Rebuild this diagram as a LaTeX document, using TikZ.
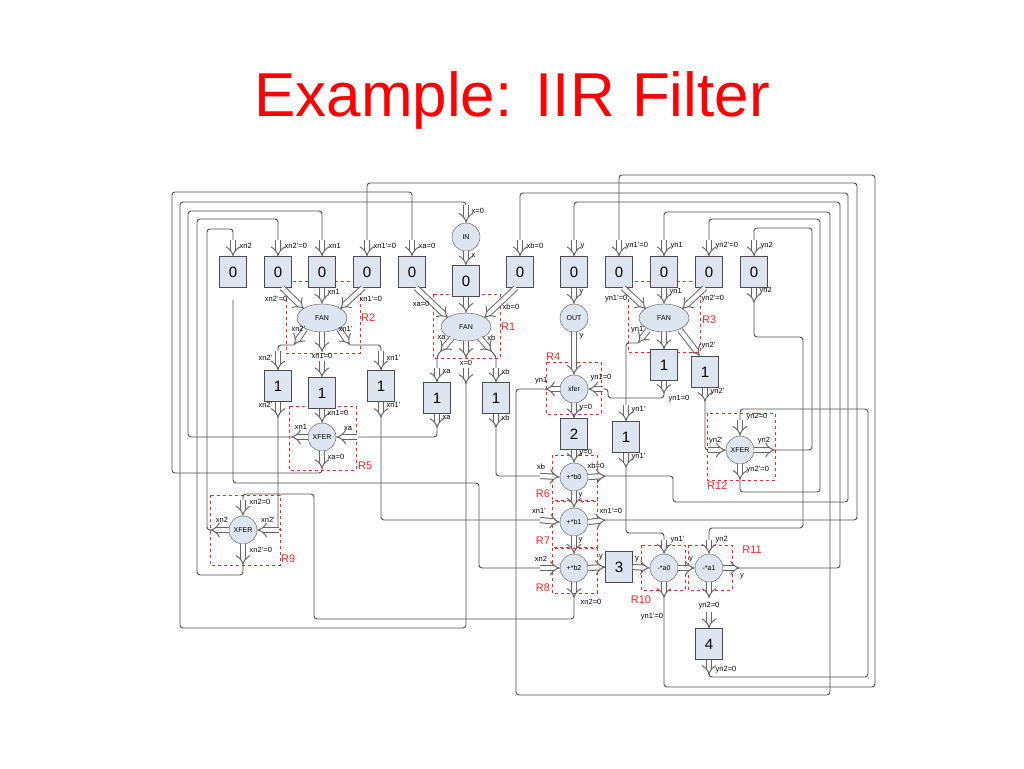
\documentclass[tikz,border=0pt]{standalone}
\usepackage{fontspec}
\setmainfont{Liberation Sans}
\usetikzlibrary{arrows.meta,shapes.geometric}
\definecolor{boxfill}{HTML}{DDE5F0}
\begin{document}
\begin{tikzpicture}[x=1pt,y=-1pt,
 fat/.style={draw=black!60,double=white,double distance=4.2pt,line width=1pt,-{Implies[scale=1.5]}},
 wire/.style={draw=black!70,line width=0.9pt,rounded corners=3pt},
 blk/.style={draw=black!70,fill=boxfill,minimum width=27pt,minimum height=31pt,inner sep=0,font=\fontsize{15}{15}\selectfont},
 cir/.style={circle,draw=black!70,fill=boxfill,minimum size=28pt,inner sep=0,font=\fontsize{7}{7}\selectfont},
 fan/.style={ellipse,draw=black!70,fill=boxfill,minimum width=50pt,minimum height=28pt,inner sep=0,font=\fontsize{7}{7}\selectfont},
 reg/.style={draw=red!85,dashed,line width=0.6pt},
 rl/.style={text=red!85,font=\fontsize{11}{11}\selectfont,inner sep=0},
 lab/.style={font=\fontsize{7.5}{8}\selectfont,inner sep=0.5pt}]
\useasboundingbox (0,0) rectangle (1024,768);
\node[text=red,font=\fontsize{62}{62}\selectfont] (title) at (512,100) {Example: IIR Filter};
% regions
\draw[reg] (286,281) rectangle (360,353); \node[rl,anchor=west] (r2) at (361,318) {R2};
\draw[reg] (433,294) rectangle (500,358); \node[rl,anchor=west] (r1) at (501,327) {R1};
\draw[reg] (628,281) rectangle (700,352); \node[rl,anchor=west] (r3) at (702,320) {R3};
\draw[reg] (289,406) rectangle (356,470); \node[rl,anchor=west] (r5) at (358,466) {R5};
\draw[reg] (546,362) rectangle (601,414); \node[rl,anchor=south west] (r4) at (546,361) {R4};
\draw[reg] (552,455) rectangle (597,500); \node[rl] (r6) at (543,494) {R6};
\draw[reg] (552,501) rectangle (597,547); \node[rl] (r7) at (543,541) {R7};
\draw[reg] (552,548) rectangle (597,593); \node[rl] (r8) at (543,588) {R8};
\draw[reg] (641,545) rectangle (685,590); \node[rl] (r10) at (641,600) {R10};
\draw[reg] (688,545) rectangle (732,590); \node[rl] (r11) at (752,550) {R11};
\draw[reg] (707,413) rectangle (775,480); \node[rl,anchor=north west] (r12) at (707,482) {R12};
\draw[reg] (210,495) rectangle (280,565); \node[rl,anchor=west] (r9) at (281,559) {R9};
% wires
\draw[wire] (210,530)--(207,530)--(207,229)--(233,229)--(233,241);
\draw[wire] (243,565)--(243,575)--(197,575)--(197,219)--(278,219)--(278,241);
\draw[wire] (291,437)--(188,437)--(188,211)--(322,211)--(322,241);
\draw[wire] (606,520)--(857,520)--(857,183)--(367,183)--(367,241);
\draw[wire] (322,469)--(322,473)--(172,473)--(172,192)--(412,192)--(412,241);
\draw[wire] (466,383)--(466,628)--(180,628)--(180,202)--(466,202)--(466,206);
\draw[wire] (606,476)--(673,476)--(673,502)--(848,502)--(848,193)--(520,193)--(520,241);
\draw[wire] (740,568)--(840,568)--(840,202)--(574,202)--(574,241);
\draw[wire] (545,389)--(516,389)--(516,695)--(830,695)--(830,212)--(664,212)--(664,241);
\draw[wire] (740,480)--(740,492)--(820,492)--(820,219)--(709,219)--(709,241);
\draw[wire] (775,450)--(812,450)--(812,228)--(754,228)--(754,241);
\draw[wire] (664,598)--(664,687)--(875,687)--(875,175)--(619,175)--(619,241);
\draw[wire] (709,675)--(709,677)--(868,677)--(868,409)--(740,409)--(740,421);
\draw[wire] (754,303)--(754,337)--(803,337)--(803,528)--(709,528)--(709,541);
\draw[wire] (638,343)--(626,343)--(626,406);
\draw[wire] (626,468)--(626,533)--(664,533)--(664,541);
\draw[wire] (664,394)--(664,398)--(608,398)--(608,389)--(603,389);
\draw[wire] (705,402)--(705,450)--(708,450);
\draw[wire] (496,428)--(496,476)--(540,476);
\draw[wire] (381,418)--(381,520)--(540,520);
\draw[wire] (233,300)--(233,483)--(479,483)--(479,568)--(540,568);
\draw[wire] (574,598)--(574,619)--(314,619)--(314,494)--(243,494)--(243,501);
\draw[wire] (278,418)--(278,530)--(279,530);
\draw[wire] (437,428)--(437,437)--(358,437);
\draw[wire] (294,345)--(278,345)--(278,351);
\draw[wire] (350,345)--(381,345)--(381,351);
\draw[wire] (440,352)--(437,356)--(437,369);
\draw[wire] (492,352)--(496,356)--(496,369);
% top row boxes
\foreach \n/\x/\t in {z1/233/xn2,z2/278/xn2'=0,z3/322/xn1,z4/367/xn1'=0,z5/412/xa=0,z7/520/xb=0,z8/574/y,z9/619/yn1'=0,z10/664/yn1,z11/709/yn2'=0,z12/754/yn2}{
 \node[blk] (\n) at (\x,272) {0};
 \draw[fat] (\x,240) -- (\n.north);
 \node[lab,anchor=west] (l\n) at (\x+6,246) {\t};
}
\node[cir] (in) at (466,237) {IN};
\node[blk] (z6) at (466,281) {0};
\draw[fat] (466,205) -- (in.north); \node[lab,anchor=west] (lx0) at (471,211) {x=0};
\draw[fat] (in.south) -- (z6.north); \node[lab,anchor=west] (lx) at (471,256) {x};
% FAN R2
\node[fan] (f2) at (322,318) {FAN};
\draw[fat] (z2.south) ++(4,0) -- (304,309); \node[lab,anchor=east] (a1) at (288,299) {xn2'=0};
\draw[fat] (z3.south) -- (f2.north); \node[lab,anchor=west] (a2) at (327,292) {xn1};
\draw[fat] (z4.south) ++(-4,0) -- (340,309); \node[lab,anchor=west] (a3) at (359,299) {xn1'=0};
\draw[fat] (305,329) -- (294,345); \node[lab,anchor=east] (a4) at (306,329) {xn2'};
\draw[fat] (339,329) -- (350,345); \node[lab,anchor=west] (a5) at (338,329) {xn1'};
\draw[fat] (f2.south) -- (322,352); \node[lab] (a6) at (322,356) {xn1=0};
\node[blk] (b1a) at (278,386) {1};
\node[blk] (b1b) at (322,393) {1};
\node[blk] (b1c) at (381,386) {1};
\draw[fat] (278,351) -- (b1a.north); \node[lab,anchor=east] (a7) at (273,358) {xn2'};
\draw[fat] (322,361) -- (b1b.north);
\draw[fat] (381,351) -- (b1c.north); \node[lab,anchor=west] (a8) at (386,358) {xn1'};
\draw[fat] (b1a.south) -- (278,418); \node[lab,anchor=east] (a9) at (273,405) {xn2'};
\draw[fat] (b1c.south) -- (381,418); \node[lab,anchor=west] (a10) at (386,405) {xn1'};
% XFER R5
\node[cir] (x5) at (322,437) {XFER};
\draw[fat] (b1b.south) -- (x5.north); \node[lab,anchor=west] (a11) at (327,413) {xn1=0};
\draw[fat] (x5.west) -- (291,437); \node[lab] (a12) at (301,427) {xn1};
\draw[fat] (357,437) -- (x5.east); \node[lab] (a13) at (348,429) {xa};
\draw[fat] (x5.south) -- (322,469); \node[lab,anchor=west] (a14) at (327,457) {xa=0};
% FAN R1
\node[fan] (f1) at (466,327) {FAN};
\draw[fat] (z5.south) ++(4,0) -- (448,318); \node[lab,anchor=east] (a15) at (430,304) {xa=0};
\draw[fat] (z6.south) -- (f1.north);
\draw[fat] (z7.south) ++(-4,0) -- (484,318); \node[lab,anchor=west] (a16) at (502,307) {xb=0};
\draw[fat] (452,338) -- (440,352); \node[lab,anchor=west] (a17) at (437,338) {xa};
\draw[fat] (f1.south) -- (466,358); \node[lab] (a18) at (466,363) {x=0};
\draw[fat] (480,338) -- (492,352); \node[lab,anchor=east] (a19) at (496,338) {xb};
\draw[fat] (466,368) -- (466,384);
\node[blk] (b1d) at (437,398) {1};
\node[blk] (b1e) at (496,398) {1};
\draw[fat] (437,368) -- (b1d.north); \node[lab,anchor=west] (a20) at (442,372) {xa};
\draw[fat] (496,368) -- (b1e.north); \node[lab,anchor=west] (a21) at (501,372) {xb};
\draw[fat] (b1d.south) -- (437,428); \node[lab,anchor=west] (a22) at (442,418) {xa};
\draw[fat] (b1e.south) -- (496,428); \node[lab,anchor=west] (a23) at (501,418) {xb};
% OUT chain
\node[cir] (out) at (574,318) {OUT};
\draw[fat] (z8.south) -- (out.north); \node[lab,anchor=west] (a24) at (579,292) {y};
\node[cir] (x4) at (574,389) {xfer};
\draw[fat] (out.south) -- (x4.north); \node[lab,anchor=west] (a25) at (579,336) {y};
\draw[fat] (x4.west) -- (545,389); \node[lab,anchor=east] (a26) at (548,381) {yn1};
\draw[fat] (603,389) -- (x4.east); \node[lab,anchor=west] (a27) at (590,378) {yn1=0};
\node[blk] (b2) at (574,434) {2};
\draw[fat] (x4.south) -- (b2.north); \node[lab,anchor=west] (a28) at (579,408) {y=0};
\node[cir] (p0) at (574,477) {+*b0};
\node[cir] (p1) at (574,522) {+*b1};
\node[cir] (p2) at (574,568) {+*b2};
\draw[fat] (b2.south) -- (p0.north); \node[lab,anchor=west] (a29) at (579,453) {y=0};
\draw[fat] (p0.south) -- (p1.north); \node[lab,anchor=west] (a30) at (578,495) {y};
\draw[fat] (p1.south) -- (p2.north); \node[lab,anchor=west] (a31) at (578,540) {y};
\draw[fat] (540,476) -- (p0.west); \node[lab] (a32) at (541,467) {xb};
\draw[fat] (p0.east) -- (606,476); \node[lab,anchor=west] (a33) at (587,466) {xb=0};
\draw[fat] (540,520) -- (p1.west); \node[lab] (a34) at (539,511) {xn1'};
\draw[fat] (p1.east) -- (606,520); \node[lab,anchor=west] (a35) at (599,511) {xn1'=0};
\draw[fat] (540,568) -- (p2.west); \node[lab] (a36) at (541,559) {xn2};
\draw[fat] (p2.south) -- (574,598); \node[lab,anchor=west] (a37) at (580,602) {xn2=0};
\node[blk] (b3) at (619,567) {3};
\draw[fat] (p2.east) -- (b3.west); \node[lab] (a38) at (601,557) {y};
\node[cir] (m0) at (664,568) {-*a0};
\node[cir] (m1) at (709,568) {-*a1};
\draw[fat] (b3.east) -- (m0.west); \node[lab] (a39) at (637,559) {y};
\draw[fat] (m0.east) -- (m1.west); \node[lab] (a40) at (691,559) {y};
\draw[fat] (m1.east) -- (740,568); \node[lab] (a41) at (742,576) {y};
\draw[fat] (664,540) -- (m0.north); \node[lab,anchor=west] (a42) at (670,540) {yn1'};
\draw[fat] (709,540) -- (m1.north); \node[lab,anchor=west] (a43) at (715,540) {yn2};
\draw[fat] (m0.south) -- (664,598); \node[lab] (a44) at (652,617) {yn1'=0};
\draw[fat] (m1.south) -- (709,598); \node[lab] (a45) at (709,606) {yn2=0};
\node[blk] (b4) at (709,644) {4};
\draw[fat] (709,612) -- (b4.north);
\draw[fat] (b4.south) -- (709,675); \node[lab,anchor=west] (a46) at (715,670) {yn2=0};
% FAN R3
\node[fan] (f3) at (664,318) {FAN};
\draw[fat] (z9.south) ++(4,0) -- (646,309); \node[lab,anchor=east] (a47) at (628,299) {yn1'=0};
\draw[fat] (z10.south) -- (f3.north); \node[lab,anchor=west] (a48) at (669,292) {yn1};
\draw[fat] (z11.south) ++(-4,0) -- (682,309); \node[lab,anchor=west] (a49) at (701,299) {yn2'=0};
\draw[fat] (648,330) -- (638,343); \node[lab] (a50) at (638,330) {yn1'};
\node[blk] (b1f) at (664,365) {1};
\node[blk] (b1g) at (705,372) {1};
\draw[fat] (f3.south) -- (b1f.north);
\draw[fat] (680,330) -- (700,356); \node[lab,anchor=west] (a51) at (701,346) {yn2'};
\draw[fat] (b1f.south) -- (664,394); \node[lab,anchor=west] (a52) at (668,399) {yn1=0};
\draw[fat] (b1g.south) -- (705,402); \node[lab,anchor=west] (a53) at (710,392) {yn2'};
\draw[fat] (z12.south) -- (754,303); \node[lab,anchor=west] (a54) at (759,291) {yn2};
\node[blk] (b1h) at (626,437) {1};
\draw[fat] (626,405) -- (b1h.north); \node[lab,anchor=west] (a55) at (631,410) {yn1'};
\draw[fat] (b1h.south) -- (626,468); \node[lab,anchor=west] (a56) at (631,457) {yn1'};
% XFER R12
\node[cir] (x12) at (740,450) {XFER};
\draw[fat] (740,420) -- (x12.north); \node[lab,anchor=west] (a57) at (746,417) {yn2=0};
\draw[fat] (708,450) -- (x12.west); \node[lab] (a58) at (716,441) {yn2'};
\draw[fat] (x12.east) -- (775,450); \node[lab] (a59) at (764,441) {yn2};
\draw[fat] (x12.south) -- (740,480); \node[lab,anchor=west] (a60) at (746,470) {yn2'=0};
% XFER R9
\node[cir] (x9) at (243,530) {XFER};
\draw[fat] (243,500) -- (x9.north); \node[lab,anchor=west] (a61) at (249,502) {xn2=0};
\draw[fat] (x9.west) -- (210,530); \node[lab] (a62) at (222,520) {xn2};
\draw[fat] (279,530) -- (x9.east); \node[lab] (a63) at (268,520) {xn2'};
\draw[fat] (x9.south) -- (243,565); \node[lab,anchor=west] (a64) at (249,550) {xn2'=0};
\end{tikzpicture}
\end{document}
